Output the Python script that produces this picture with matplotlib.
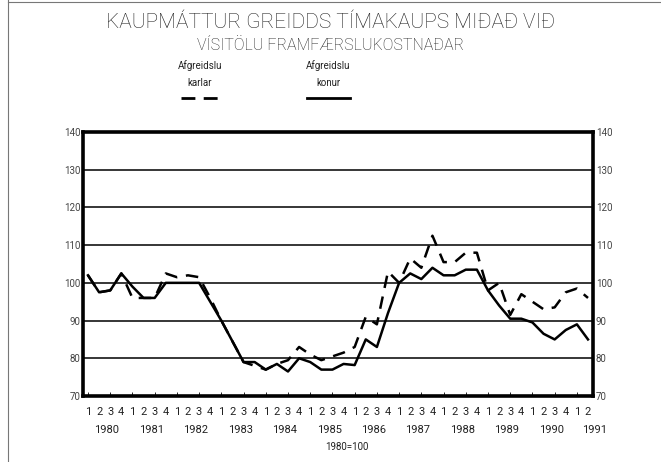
import matplotlib.pyplot as plt
from matplotlib.lines import Line2D

# Quarterly index, 1980 Q1 .. 1991 Q2 (1980=100)
years = [str(y) for y in range(1980, 1992)]
quarters = ["1", "2", "3", "4"] * 11 + ["1", "2"]

karlar = [102, 97.5, 98, 102.5, 96, 96, 96, 102.5, 101.5, 102, 101.5, 96,
          90, 84.5, 79, 78, 77, 78.5, 79.5, 83, 81, 79.5, 80.5, 81.5,
          83, 91, 89, 103, 100, 106.5, 104, 112.5, 105.5, 105.5, 108, 108,
          98, 100, 91.5, 97, 95, 93, 93.5, 97.5, 98.5, 96]
konur = [102, 97.5, 98, 102.5, 99, 96, 96, 100, 100, 100, 100, 95,
         90, 84.5, 79, 79, 77, 78.5, 76.5, 80, 79, 77, 77, 78.5,
         78.2, 85, 83, 92, 100, 102.5, 101, 104, 102, 102, 103.5, 103.5,
         98, 94, 90.5, 90.5, 89.5, 86.5, 85, 87.5, 89, 85]

plt.rcParams["font.family"] = ["Roboto", "DejaVu Sans"]
TXT = "#222222"


def main():
    fig = plt.figure(figsize=(6.61, 4.62), dpi=100)
    ax = fig.add_axes([83 / 661, 1 - 396 / 462, 510 / 661, 264 / 462])

    x = list(range(len(konur)))
    ax.plot(x, konur, color="black", lw=1.8)
    ax.plot(x, karlar, color="black", lw=1.8, dashes=(5, 3.5))

    ax.set_xlim(-0.45, 45.45)
    ax.set_ylim(70, 140)
    for v in range(80, 140, 10):
        ax.axhline(v, color="black", lw=1.1, zorder=0)

    for s in ax.spines.values():
        s.set_linewidth(2.6)

    ax.set_yticks(range(70, 141, 10))
    ax.tick_params(axis="y", length=0, labelsize=7, labelcolor="#444444",
                   left=False, right=False, labelleft=True, labelright=True, pad=2)
    ax.set_xticks(range(0, 46, 2))
    ax.set_xticklabels([])
    ax.tick_params(axis="x", direction="in", length=3, width=0.6)

    # quarter and year labels
    for i, q in enumerate(quarters):
        ax.text(i, 67.2, q, ha="center", va="top", fontsize=8, color=TXT)
    for k, yr in enumerate(years):
        xp = 4 * k + 1.7 if k < 11 else 45.6
        ax.text(xp, 62.3, yr, ha="center", va="top", fontsize=8, color=TXT)

    fig.text(347 / 661, 1 - 447 / 462, "1980=100", ha="center", va="center",
             fontsize=7, color=TXT)

    # titles
    fig.text(0.5, 1 - 22 / 462, "KAUPMÁTTUR GREIDDS TÍMAKAUPS MIÐAÐ VIÐ",
             ha="center", va="center", fontsize=15, color=TXT, weight="light")
    fig.text(0.5, 1 - 45 / 462, "VÍSITÖLU FRAMFÆRSLUKOSTNAÐAR",
             ha="center", va="center", fontsize=11.5, color=TXT, weight="light")

    # legend
    fig.text(200 / 661, 1 - 74 / 462, "Afgreidslu\nkarlar", ha="center",
             va="center", fontsize=7, linespacing=1.9, color=TXT)
    fig.text(328 / 661, 1 - 74 / 462, "Afgreidslu\nkonur", ha="center",
             va="center", fontsize=7, linespacing=1.9, color=TXT)
    yl = 1 - 97.5 / 462
    fig.add_artist(Line2D([181 / 661, 222 / 661], [yl, yl], color="black",
                          lw=2, dashes=(5, 3)))
    fig.add_artist(Line2D([307 / 661, 350 / 661], [yl, yl], color="black", lw=2))

    # page scan border
    fig.add_artist(Line2D([8 / 661, 8 / 661], [0, 1], color="#777777", lw=0.8))
    fig.add_artist(Line2D([8 / 661, 1], [1 - 2 / 462, 1 - 2 / 462],
                          color="#777777", lw=0.8))

    fig.savefig("out.png", dpi=100)


if __name__ == "__main__":
    main()
